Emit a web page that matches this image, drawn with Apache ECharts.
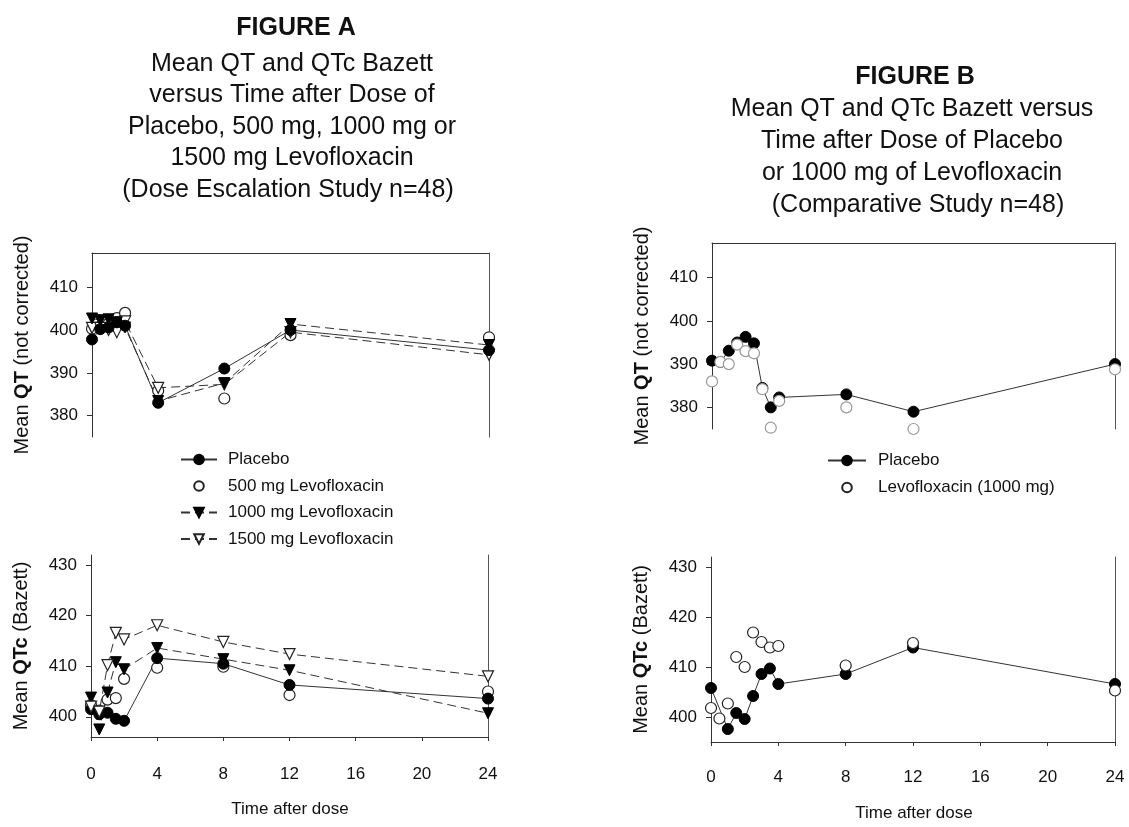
<!DOCTYPE html>
<html>
<head>
<meta charset="utf-8">
<script src="https://cdn.jsdelivr.net/npm/echarts@6/dist/echarts.min.js"></script>
<style>html,body{margin:0;padding:0;background:#fff}#c{width:1129px;height:827px}</style>
</head>
<body>
<div id="c"></div>
<script>
// ---- Data ----
const timesA = [0, 0.5, 1, 1.5, 2, 4, 8, 12, 24];
const timesB = [0, 0.5, 1, 1.5, 2, 2.5, 3, 3.5, 4, 8, 12, 24];
const xTicks = [0, 4, 8, 12, 16, 20, 24];
const qtTicks = [380, 390, 400, 410];
const qtcTicks = [400, 410, 420, 430];

// Figure A, mean QT (not corrected)
const placeboQtA = [397.8, 400.2, 400.6, 401.8, 401.0, 383.0, 391.0, 400.0, 395.3];
const mg500QtA   = [400.3, 400.8, 401.5, 402.8, 404.0, 385.8, 384.0, 398.8, 398.3];
const mg1000QtA  = [402.7, 402.3, 402.5, 401.8, 400.6, 383.4, 387.6, 401.4, 396.5];
const mg1500QtA  = [400.5, 400.5, 400.0, 399.5, 402.0, 386.5, 387.3, 399.5, 394.2];
// Figure A, mean QTc (Bazett)
const placeboQtcA = [401.5, 400.5, 400.8, 399.6, 399.2, 411.6, 410.5, 406.3, 403.6];
const mg500QtcA   = [402.3, 401.2, 403.4, 403.7, 407.5, 409.7, 409.9, 404.3, 405.0];
const mg1000QtcA  = [403.8, 397.5, 404.8, 410.8, 409.4, 413.6, 411.4, 409.2, 400.7];
const mg1500QtcA  = [402.0, 401.0, 410.2, 416.6, 415.3, 418.1, 414.8, 412.4, 408.0];
// Figure B, mean QT (not corrected)
const placeboQtB = [390.8, 390.5, 393.1, 395.0, 396.3, 394.8, 384.5, 380.0, 382.3, 383.0, 379.0, 390.0];
const levoQtB    = [386.0, 390.5, 390.0, 394.5, 393.0, 392.5, 384.2, 375.3, 381.5, 380.0, 375.0, 388.8];
// Figure B, mean QTc (Bazett)
const placeboQtcB = [405.8, null, 397.6, 400.8, 399.6, 404.2, 408.6, 409.7, 406.6, 408.6, 413.9, 406.6];
const levoQtcB    = [401.8, 399.7, 402.7, 412.0, 410.0, 416.9, 415.0, 413.9, 414.2, 410.3, 414.8, 405.3];

const namePlacebo = 'Placebo';
const name500 = '500 mg Levofloxacin';
const name1000 = '1000 mg Levofloxacin';
const name1500 = '1500 mg Levofloxacin';
const nameLevo = 'Levofloxacin (1000 mg)';

// ---- Helpers ----
const FONT = '"Liberation Sans", Arial, sans-serif';
const INK = '#111';
const LINE = '#333';
const pairs = (t, v) => t.map((x, i) => [x, v[i]]);

const grids = [
  {left: 92, top: 253, width: 397, height: 184},
  {left: 91, top: 555, width: 397, height: 182},
  {left: 712, top: 243, width: 403, height: 186},
  {left: 711, top: 557, width: 404, height: 185}
];
const yRanges = [[375, 418], [396, 432], [375, 418], [395, 432]];
const yTicks = [qtTicks, qtcTicks, qtTicks, qtcTicks];
const xLabelMargin = [0, 29, 0, 27];
const yNames = [
  '{n|Mean }{b|QT}{n| (not corrected)}',
  '{n|Mean }{b|QTc}{n| (Bazett)}',
  '{n|Mean }{b|QT}{n| (not corrected)}',
  '{n|Mean }{b|QTc}{n| (Bazett)}'
];

const xAxes = grids.map((g, i) => {
  const isTop = (i % 2 === 0);
  return {
    type: 'value', gridIndex: i, min: 0, max: 24, interval: 4,
    position: isTop ? 'top' : 'bottom',
    axisLine: {show: true, onZero: false, lineStyle: {color: LINE, width: 1}},
    axisTick: {show: !isTop, inside: false, length: 4, lineStyle: {color: LINE}},
    axisLabel: {show: !isTop, margin: xLabelMargin[i], fontSize: 17, color: INK, fontFamily: FONT,
      customValues: xTicks},
    splitLine: {show: false}
  };
});

const yAxesLeft = grids.map((g, i) => ({
  type: 'value', gridIndex: i, min: yRanges[i][0], max: yRanges[i][1],
  position: 'left',
  axisLine: {show: true, onZero: false, lineStyle: {color: LINE, width: 1}},
  axisTick: {show: true, length: 5, customValues: yTicks[i], lineStyle: {color: LINE}},
  axisLabel: {margin: 14, fontSize: 17, color: INK, fontFamily: FONT, customValues: yTicks[i]},
  splitLine: {show: false},
  name: yNames[i], nameLocation: 'middle', nameRotate: 90, nameGap: 60,
  nameTextStyle: {
    color: INK, fontFamily: FONT,
    rich: {
      n: {fontSize: 20, color: INK, fontFamily: FONT},
      b: {fontSize: 20, fontWeight: 'bold', color: INK, fontFamily: FONT}
    }
  }
}));
const yAxesRight = grids.map((g, i) => ({
  type: 'value', gridIndex: i, min: yRanges[i][0], max: yRanges[i][1],
  position: 'right',
  axisLine: {show: true, onZero: false, lineStyle: {color: '#555', width: 1}},
  axisTick: {show: false}, axisLabel: {show: false}, splitLine: {show: false}
}));

const solid = {color: LINE, width: 1, type: 'solid'};
const dashed = {color: LINE, width: 1, type: [9, 5]};
const hidden = {color: LINE, width: 1, opacity: 0};

function mk(name, idx, times, vals, kind, extra) {
  const base = {
    type: 'line', name: name, xAxisIndex: idx, yAxisIndex: idx,
    data: pairs(times, vals), connectNulls: true, silent: true,
    animation: false, emphasis: {disabled: true}, symbolKeepAspect: true
  };
  if (kind === 'filledCircle') Object.assign(base, {symbol: 'circle', symbolSize: 11,
    itemStyle: {color: '#000', borderColor: '#000', borderWidth: 1}, lineStyle: solid});
  if (kind === 'openCircle') Object.assign(base, {symbol: 'circle', symbolSize: 11,
    itemStyle: {color: '#fff', borderColor: '#222', borderWidth: 1.2}, lineStyle: hidden});
  if (kind === 'filledTri') Object.assign(base, {symbol: 'triangle', symbolRotate: 180, symbolSize: 11,
    itemStyle: {color: '#000', borderColor: '#000', borderWidth: 1}, lineStyle: dashed});
  if (kind === 'openTri') Object.assign(base, {symbol: 'triangle', symbolRotate: 180, symbolSize: 11,
    itemStyle: {color: '#fff', borderColor: '#222', borderWidth: 1.2}, lineStyle: dashed});
  return Object.assign(base, extra || {});
}

const series = [
  // Figure A, QT
  mk(name500, 0, timesA, mg500QtA, 'openCircle'),
  mk(name1500, 0, timesA, mg1500QtA, 'openTri'),
  mk(namePlacebo, 0, timesA, placeboQtA, 'filledCircle'),
  mk(name1000, 0, timesA, mg1000QtA, 'filledTri'),
  // Figure A, QTc
  mk(name500, 1, timesA, mg500QtcA, 'openCircle'),
  mk(namePlacebo, 1, timesA, placeboQtcA, 'filledCircle'),
  mk(name1000, 1, timesA, mg1000QtcA, 'filledTri'),
  mk(name1500, 1, timesA, mg1500QtcA, 'openTri'),
  // Figure B, QTc
  mk(namePlacebo, 3, timesB, placeboQtcB, 'filledCircle'),
  mk(nameLevo, 3, timesB, levoQtcB, 'openCircle'),
  // Figure B, QT
  mk(namePlacebo, 2, timesB, placeboQtB, 'filledCircle'),
  mk(nameLevo, 2, timesB, levoQtB, 'openCircle', {itemStyle: {color: '#fff', borderColor: '#999', borderWidth: 1.2}})
];

function titleText(txt, x, y, bold) {
  return {type: 'text', x: x, y: y, silent: true,
    style: {text: txt, fill: INK, align: 'center', verticalAlign: 'middle',
      font: (bold ? 'bold ' : '') + '25px ' + FONT}};
}

const graphic = [
  titleText('FIGURE A', 296, 28, true),
  titleText('Mean QT and QTc Bazett', 292, 64),
  titleText('versus Time after Dose of', 292, 95),
  titleText('Placebo, 500 mg, 1000 mg or', 292, 127),
  titleText('1500 mg Levofloxacin', 292, 158),
  titleText('(Dose Escalation Study n=48)', 288, 190),
  titleText('FIGURE B', 915, 77, true),
  titleText('Mean QT and QTc Bazett versus', 912, 109),
  titleText('Time after Dose of Placebo', 912, 141),
  titleText('or 1000 mg of Levofloxacin', 912, 173),
  titleText('(Comparative Study n=48)', 918, 205),
  {type: 'text', x: 290, y: 809, silent: true,
    style: {text: 'Time after dose', fill: INK, align: 'center', verticalAlign: 'middle', font: '17px ' + FONT}},
  {type: 'text', x: 914, y: 813, silent: true,
    style: {text: 'Time after dose', fill: INK, align: 'center', verticalAlign: 'middle', font: '17px ' + FONT}}
];

const legendText = {fontSize: 17, color: INK, fontFamily: FONT, lineHeight: 19};

const option = {
  animation: false,
  backgroundColor: '#fff',
  grid: grids,
  xAxis: xAxes,
  yAxis: yAxesLeft.concat(yAxesRight),
  legend: [
    {orient: 'vertical', itemWidth: 36, itemHeight: 12, itemGap: 7.5, selectedMode: false,
      left: 175, top: 445,
      textStyle: Object.assign({}, legendText, {padding: [0, 0, 0, 6]}),
      data: [namePlacebo, name500, name1000, name1500]},
    {orient: 'vertical', itemWidth: 38, itemHeight: 12, itemGap: 8, selectedMode: false,
      left: 822, top: 446,
      textStyle: Object.assign({}, legendText, {padding: [0, 0, 0, 7]}),
      data: [namePlacebo, nameLevo]}
  ],
  graphic: graphic,
  series: series
};

const chart = echarts.init(document.getElementById('c'), null, {renderer: 'canvas'});
chart.setOption(option);
</script>
</body>
</html>
